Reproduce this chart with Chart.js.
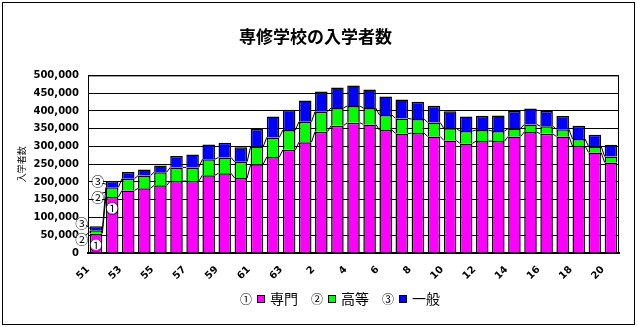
<!DOCTYPE html>
<html lang="ja">
<head>
  <meta charset="UTF-8" />
  <title>専修学校の入学者数</title>
  <script src="https://cdn.jsdelivr.net/npm/chart.js"></script>
  <style>
    body { margin: 0; background: #fff; }
  </style>
</head>
<body>
  <canvas id="enrollChart" width="637" height="327"></canvas>

  <script>
    // 年度 (昭和51〜63, 平成1〜20)
    const years = ['51', '52', '53', '54', '55', '56', '57', '58', '59', '60', '61', '62', '63',
      '1', '2', '3', '4', '5', '6', '7', '8', '9', '10', '11', '12', '13', '14', '15', '16', '17', '18', '19', '20'];

    // 課程別の入学者数
    const senmon = [55000, 157500, 176000, 182000, 190500, 202500, 202500, 219000, 224500, 211000, 250000, 270000, 290500,
      312000, 341500, 358500, 367000, 362000, 346000, 336500, 337500, 328000, 317000, 308500, 315000, 315000, 328000,
      340500, 335500, 328000, 301000, 283000, 254500];
    const koutou = [9000, 27500, 33000, 36000, 37000, 38500, 38500, 45000, 44500, 46000, 50000, 55500, 55500,
      57500, 56500, 50000, 47000, 46000, 42500, 42500, 39500, 39500, 34000, 35000, 31000, 28500, 22500,
      21500, 21500, 20500, 20000, 17000, 17000];
    const ippan = [11000, 18000, 19000, 17000, 19000, 32000, 36000, 41500, 41500, 40500, 49000, 58500, 57500,
      59500, 56500, 57500, 57500, 52000, 52000, 53000, 49000, 47000, 48000, 40500, 40500, 43500, 49000,
      44500, 42500, 37500, 37500, 33000, 33000];

    const seriesNames = ['専門', '高等', '一般'];
    const seriesMarks = ['①', '②', '③'];
    const seriesColors = ['#ff00ff', '#00ff00', '#0000ff'];

    const CJK = '"Noto Sans CJK JP", sans-serif';
    const TICK_FONT = { family: '"DejaVu Sans", sans-serif', size: 10, weight: 'bold' };

    function circled(ctx, ch, x, y) {
      ctx.beginPath();
      ctx.arc(x, y, 5.5, 0, Math.PI * 2);
      ctx.fillStyle = '#fff';
      ctx.fill();
      ctx.fillStyle = '#000';
      ctx.font = '13px ' + CJK;
      ctx.textAlign = 'center';
      ctx.textBaseline = 'middle';
      ctx.fillText(ch, x, y + 0.5);
    }

    // 系列線・枠・系列名ラベル・年度ラベル・凡例
    const decorations = {
      id: 'decorations',
      afterDatasetsDraw(chart) {
        const ctx = chart.ctx;
        const a = chart.chartArea;
        ctx.save();
        ctx.strokeStyle = '#000';
        ctx.lineWidth = 1;

        // 系列線 (専門・高等の上端をつなぐ)
        [0, 1].forEach(di => {
          const bars = chart.getDatasetMeta(di).data;
          for (let i = 0; i < bars.length - 1; i++) {
            const b = bars[i], n = bars[i + 1];
            ctx.beginPath();
            ctx.moveTo(b.x + b.width / 2, b.y);
            ctx.lineTo(n.x - n.width / 2, n.y);
            ctx.stroke();
          }
        });

        // プロットエリアの枠
        ctx.beginPath();
        ctx.moveTo(a.left, a.top + 0.5);
        ctx.lineTo(a.right - 0.5, a.top + 0.5);
        ctx.lineTo(a.right - 0.5, a.bottom);
        ctx.stroke();

        // 最初の2本に系列名の丸数字
        for (let i = 0; i < 2; i++) {
          const p = chart.getDatasetMeta(0).data[i];
          const g = chart.getDatasetMeta(1).data[i];
          const b = chart.getDatasetMeta(2).data[i];
          const left = p.x - p.width / 2;
          const gMid = (g.y + g.base) / 2;
          const bMid = (b.y + b.base) / 2;
          const mid = (gMid + bMid) / 2;
          const lx = left - 8;
          const y3 = mid - 8, y2 = mid + 8;

          ctx.strokeStyle = '#000';
          ctx.lineWidth = 1;
          ctx.beginPath();
          ctx.moveTo(lx + 4, y3 + 3); ctx.lineTo(left, bMid);
          ctx.moveTo(lx + 4, y2 - 3); ctx.lineTo(left, gMid);
          ctx.stroke();

          circled(ctx, seriesMarks[2], lx, y3);
          circled(ctx, seriesMarks[1], lx, y2);
          circled(ctx, seriesMarks[0], p.x, p.y + 11);
        }

        // 年度ラベル (1年おき・斜め45度)
        const xs = chart.scales.x;
        ctx.fillStyle = '#000';
        ctx.font = 'bold 10px "DejaVu Sans", sans-serif';
        ctx.textAlign = 'right';
        ctx.textBaseline = 'middle';
        years.forEach((label, i) => {
          if (i % 2 !== 0) return;
          ctx.save();
          ctx.translate(xs.getPixelForTick(i) - 8, a.bottom + 15);
          ctx.rotate(-Math.PI / 4);
          ctx.fillText(label, 0, 0);
          ctx.restore();
        });
        ctx.restore();
      },
      afterDraw(chart) {
        const ctx = chart.ctx;
        ctx.save();
        // 外枠
        ctx.strokeStyle = '#000';
        ctx.lineWidth = 1;
        ctx.strokeRect(2.5, 2.5, chart.width - 5, chart.height - 5);

        // 凡例
        let x = 240;
        const y = 299;
        seriesNames.forEach((name, i) => {
          ctx.fillStyle = '#000';
          ctx.font = '12px ' + CJK;
          ctx.textAlign = 'left';
          ctx.textBaseline = 'middle';
          ctx.fillText(seriesMarks[i], x, y);
          ctx.fillStyle = seriesColors[i];
          ctx.fillRect(x + 17, y - 4, 8, 8);
          ctx.strokeRect(x + 17.5, y - 3.5, 7, 7);
          ctx.fillStyle = '#000';
          ctx.font = '14px ' + CJK;
          ctx.fillText(name, x + 30, y);
          x += 30 + ctx.measureText(name).width + 13;
        });
        ctx.restore();
      }
    };

    const ctx = document.getElementById('enrollChart').getContext('2d');
    new Chart(ctx, {
      type: 'bar',
      data: {
        labels: years,
        datasets: [senmon, koutou, ippan].map((values, i) => ({
          label: seriesNames[i],
          data: values,
          backgroundColor: seriesColors[i],
          borderColor: '#000',
          borderWidth: { top: 1.5, left: 1.5, right: 1.5, bottom: 0 },
          borderSkipped: false,
          categoryPercentage: 1,
          barPercentage: 0.78
        }))
      },
      options: {
        responsive: false,
        animation: false,
        layout: {
          padding: { left: 12, right: 18, top: 0, bottom: 34 }
        },
        plugins: {
          legend: { display: false },
          tooltip: { enabled: false },
          title: {
            display: true,
            text: '専修学校の入学者数',
            color: '#000',
            font: { family: CJK, size: 17, weight: 'bold' },
            padding: { top: 26, bottom: 29 }
          }
        },
        scales: {
          x: {
            stacked: true,
            grid: { display: false },
            border: { color: '#000', width: 2 },
            ticks: { display: false },
            afterFit: scale => { scale.height = 40; }
          },
          y: {
            stacked: true,
            min: 0,
            max: 500000,
            grid: { color: '#000', lineWidth: 1, drawTicks: false },
            border: { color: '#000', width: 1 },
            ticks: {
              stepSize: 50000,
              color: '#000',
              font: TICK_FONT,
              padding: 9,
              callback: v => v.toLocaleString('en-US')
            },
            title: {
              display: true,
              text: '入学者数',
              color: '#000',
              font: { family: CJK, size: 9 },
              padding: { top: 4, bottom: 0 }
            },
            afterFit: scale => { scale.width = 76; }
          }
        }
      },
      plugins: [decorations]
    });
  </script>
</body>
</html>
